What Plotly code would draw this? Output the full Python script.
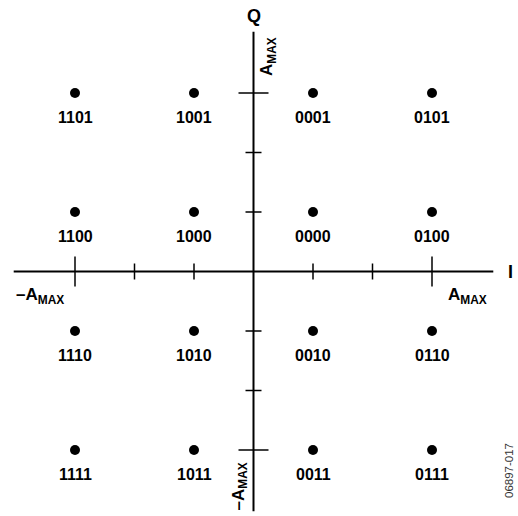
import plotly.graph_objects as go

# 16-QAM constellation: I/Q levels and the 4-bit code of each point
i_levels = [-3, -1, 1, 3]
q_levels = [3, 1, -1, -3]
codes = [
    ["1101", "1001", "0001", "0101"],
    ["1100", "1000", "0000", "0100"],
    ["1110", "1010", "0010", "0110"],
    ["1111", "1011", "0011", "0111"],
]
tick_positions = [-3, -2, -1, 1, 2, 3]
a_max = 3

UNIT = 59.5            # pixels per unit
CX, CY = 253.5, 271.5  # pixel position of the origin
W, H = 518, 516
AXIS_EXT = 4.03
FONT = "Liberation Sans, Arial, sans-serif"

xs, ys, txt = [], [], []
for r, q in enumerate(q_levels):
    for c, i in enumerate(i_levels):
        xs.append(i)
        ys.append(q)
        txt.append(codes[r][c])

fig = go.Figure()
fig.add_trace(go.Scatter(
    x=xs, y=ys, mode="markers",
    marker=dict(size=10, color="black"),
    hoverinfo="skip", showlegend=False,
))

shapes = []
line_axis = dict(color="black", width=2)
shapes.append(dict(type="line", x0=-AXIS_EXT, x1=AXIS_EXT, y0=0, y1=0, line=line_axis, layer="below"))
shapes.append(dict(type="line", x0=0, x1=0, y0=-AXIS_EXT, y1=AXIS_EXT, line=line_axis, layer="below"))
for t in tick_positions:
    half = (15 if abs(t) == a_max else 8) / UNIT
    shapes.append(dict(type="line", x0=t, x1=t, y0=-half, y1=half,
                       line=dict(color="black", width=1.5), layer="below"))
    shapes.append(dict(type="line", x0=-half, x1=half, y0=t, y1=t,
                       line=dict(color="black", width=1.5), layer="below"))

annotations = []
for x, y, t in zip(xs, ys, txt):
    annotations.append(dict(x=x, y=y, text="<b>" + t + "</b>", showarrow=False, yshift=-24,
                            font=dict(family=FONT, size=16, color="black")))

amax = "A<sub>MAX</sub>"
bold = dict(family=FONT, size=17, color="black")
annotations += [
    dict(x=-a_max, y=0, text="<b>–" + amax + "</b>", showarrow=False,
         xanchor="right", xshift=-9, yshift=-24, font=bold),
    dict(x=a_max, y=0, text="<b>" + amax + "</b>", showarrow=False,
         xanchor="left", xshift=14, yshift=-24, font=bold),
    dict(x=0, y=a_max, text="<b>" + amax + "</b>", showarrow=False,
         textangle=-90, yanchor="bottom", xshift=14, yshift=15, font=bold),
    dict(x=0, y=-a_max, text="<b>–" + amax + "</b>", showarrow=False,
         textangle=-90, yanchor="top", xshift=-14, yshift=-11, font=bold),
    dict(x=0, y=AXIS_EXT, text="<b>Q</b>", showarrow=False,
         yanchor="bottom", yshift=4, font=dict(family=FONT, size=18, color="black")),
    dict(x=AXIS_EXT, y=0, text="<b>I</b>", showarrow=False,
         xanchor="left", xshift=13, font=dict(family=FONT, size=18, color="black")),
    dict(xref="paper", yref="paper", x=509 / W, y=1 - 471 / H, text="06897-017",
         showarrow=False, textangle=-90, xanchor="center", yanchor="middle",
         font=dict(family=FONT, size=11.5, color="#333333")),
]

fig.update_layout(
    width=W, height=H,
    margin=dict(l=0, r=0, t=0, b=0),
    paper_bgcolor="white", plot_bgcolor="white",
    xaxis=dict(range=[-CX / UNIT, (W - CX) / UNIT], visible=False, fixedrange=True),
    yaxis=dict(range=[-(H - CY) / UNIT, CY / UNIT], visible=False, fixedrange=True),
    shapes=shapes, annotations=annotations,
)

fig.write_html("out.html")
